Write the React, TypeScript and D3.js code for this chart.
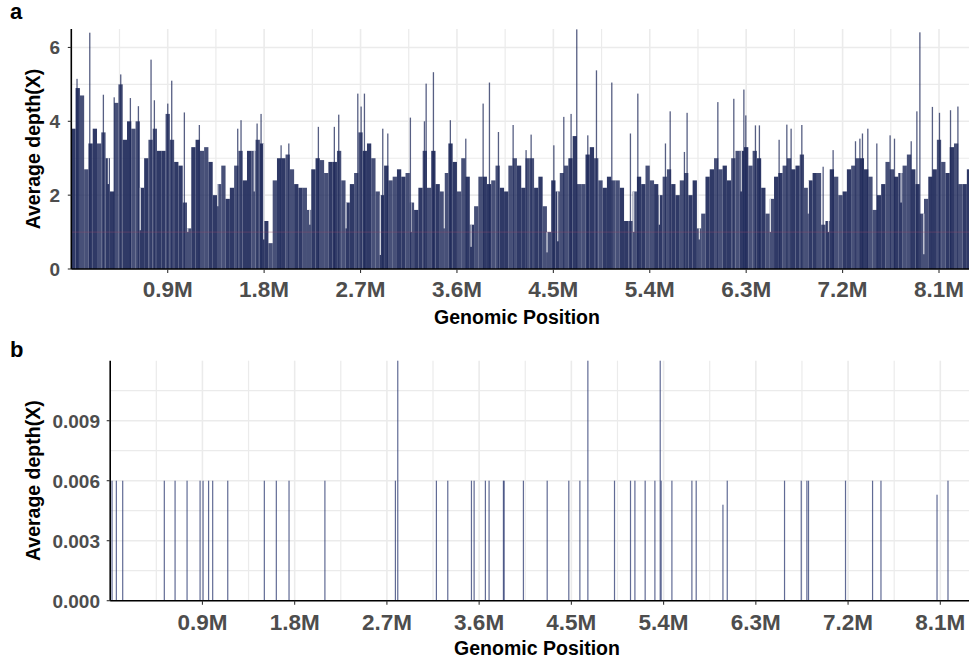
import * as d3 from "d3";

// panel a: mean depth per 40 kb window (Mb positions)
const binSize = 0.04;
const depthBins = [
  3.8, 4.9, 4.7, 2.7, 3.4, 3.8, 3.4, 3.7, 3.0, 2.1, 4.5, 5.0, 3.5, 4.0, 3.8, 4.0, 2.2, 3.0, 3.5, 3.8,
  3.2, 3.2, 4.2, 3.5, 2.9, 2.8, 1.8, 1.1, 3.3, 3.5, 3.2, 3.3, 2.9, 2.0, 2.3,
  2.8, 1.9, 2.2, 2.8, 3.2, 2.4, 3.2, 3.2, 3.5, 3.4, 1.3, 0.7, 2.4, 3.0, 3.0, 3.1, 2.7, 2.3, 2.2, 2.2,
  1.6, 2.7, 3.0, 2.95, 2.6, 2.9, 2.9, 3.2, 2.4, 1.8, 2.3, 2.6, 3.7, 3.2, 3.4,
  3.0, 2.1, 2.0, 2.8, 2.4, 2.5, 2.7, 2.5, 2.6, 1.8, 1.6, 2.2, 3.2, 2.2, 3.2, 2.3, 2.1, 2.6, 3.4, 2.9,
  2.1, 3.0, 2.5, 1.2, 1.7, 2.5, 2.5, 2.3, 2.4, 2.8, 2.2, 2.1, 2.8, 3.0, 2.8,
  2.2, 3.0, 3.0, 2.2, 2.5, 1.7, 1.0, 2.4, 2.1, 2.6, 2.8, 3.0, 3.6, 2.3, 2.3, 3.1, 3.3, 3.0, 2.4, 2.2,
  2.5, 2.4, 2.4, 2.2, 1.3, 1.3, 2.1, 2.5, 2.3, 2.8, 2.4, 2.3, 2.0, 2.5, 2.7,
  2.3, 2.0, 2.4, 2.6, 2.0, 2.4, 1.1, 1.5, 2.5, 2.7, 3.0, 2.7, 2.8, 2.4, 3.0, 3.2, 3.2, 3.3, 2.8, 3.2,
  3.0, 2.2, 1.5, 1.9, 2.5, 2.6, 2.8, 3.0, 2.7, 2.8, 3.1, 2.2, 2.4, 2.6, 2.6,
  1.2, 1.3, 2.7, 2.5, 2.0, 2.1, 2.7, 2.8, 3.0, 3.0, 2.7, 2.5, 1.6, 2.0, 2.3, 2.9, 2.7, 2.5, 2.6, 2.8,
  3.1, 2.7, 2.3, 1.5, 1.9, 2.5, 2.7, 3.5, 2.9, 2.6, 3.3, 3.4, 2.3, 2.3, 2.7,
];

// narrow high-depth peaks sticking out of the windows
const peakPos = [
  0.053, 0.172, 0.299, 0.4, 0.461, 0.551, 0.626, 0.744, 0.775, 0.9, 0.937, 1.055, 1.195,
  1.553, 1.584, 1.734, 1.771, 1.958, 2.03, 2.306, 2.455, 2.496, 2.674, 2.705, 2.736,
  2.907, 2.954, 3.165, 3.296, 3.312, 3.38, 3.538, 3.682, 3.844, 3.903, 3.987, 4.124,
  4.245, 4.292, 4.504, 4.597, 4.665, 4.718, 4.821, 4.902, 5.045, 5.219, 5.288, 5.546, 5.59,
  5.723, 5.748, 6.035, 6.184, 6.278, 6.296, 6.386, 6.423, 6.607, 6.679, 6.719, 6.819,
  7.018, 7.111, 7.32, 7.361, 7.385, 7.435, 7.519, 7.643, 7.684, 7.84, 7.893, 7.921, 8.038, 8.104, 8.207, 8.276,
];
const peakDepth = [
  5.15, 6.4, 4.72, 4.65, 5.27, 4.63, 4.41, 5.67, 4.57, 4.48, 5.1, 4.24, 3.9,
  3.8, 4.03, 3.94, 4.2, 3.35, 3.4, 3.85, 3.85, 4.18, 4.75, 4.4, 4.75,
  3.8, 3.67, 4.1, 4.0, 5.02, 5.33, 4.03, 3.53, 4.48, 5.05, 3.71, 3.9,
  3.22, 3.64, 3.35, 4.12, 4.2, 6.49, 3.62, 5.38, 5.05, 3.67, 4.75, 3.4, 4.27,
  3.17, 4.23, 4.52, 4.61, 4.86, 4.16, 3.89, 3.89, 3.5, 3.91, 3.8, 3.9,
  2.77, 3.22, 3.46, 3.53, 3.67, 3.8, 3.4, 3.62, 3.53, 3.46, 4.27, 6.41, 4.39, 4.23, 4.3, 4.4,
];

// narrow low-depth points cutting into the windows
const dipPos = [
  0.346, 0.644, 1.087, 1.367, 1.708, 1.796, 2.226, 2.565, 2.885, 3.171, 3.482, 3.732,
  4.441, 4.541, 5.25, 5.49, 5.863, 6.254, 6.526, 6.881, 7.068, 7.497, 7.746, 7.958,
];
const dipDepth = [
  2.3, 1.05, 1.0, 1.7, 2.1, 0.8, 1.2, 1.1, 0.38, 1.0, 1.1, 0.6,
  0.45, 0.75, 1.0, 1.2, 0.8, 2.1, 1.0, 1.5, 1.0, 1.6, 1.8, 0.4,
];

// panel b: sparse sites
const sitePos = [
  0.018, 0.06, 0.122, 0.528, 0.633, 0.75, 0.877, 0.906, 0.96, 1.0, 1.147, 1.504, 1.621, 1.745,
  2.095, 2.783, 2.806, 3.183, 3.294, 3.525, 3.551, 3.661, 3.697, 3.837, 3.844, 4.032, 4.264,
  4.475, 4.583, 4.661, 4.921, 5.077, 5.12, 5.22, 5.315, 5.367, 5.376, 5.481, 5.676, 5.718,
  5.979, 6.021, 6.58, 6.743, 6.798, 6.814, 7.175, 7.439, 7.521, 8.068, 8.175,
];
const siteDepth = [
  0.006, 0.006, 0.006, 0.006, 0.006, 0.006, 0.006, 0.006, 0.006, 0.006, 0.006, 0.006, 0.006, 0.006,
  0.006, 0.006, 0.012, 0.006, 0.006, 0.006, 0.006, 0.006, 0.006, 0.006, 0.006, 0.006, 0.006,
  0.006, 0.006, 0.012, 0.006, 0.006, 0.006, 0.006, 0.006, 0.012, 0.006, 0.006, 0.006, 0.006,
  0.0048, 0.006, 0.006, 0.006, 0.006, 0.006, 0.006, 0.006, 0.006, 0.0053, 0.006,
];

const genomeLen = 8.38;
const xTicks = [0.9, 1.8, 2.7, 3.6, 4.5, 5.4, 6.3, 7.2, 8.1];
const xMinor = [0.45, 1.35, 2.25, 3.15, 4.05, 4.95, 5.85, 6.75, 7.65];
const yTicksA = [0, 2, 4, 6];
const yMinorA = [1, 3, 5];
const yTicksB = [0, 0.003, 0.006, 0.009];
const yMinorB = [0.0015, 0.0045, 0.0075, 0.0105];

const W = 969;
const H = 660;
const font = "'Liberation Sans', Arial, sans-serif";
const gridCol = "#ebebeb";
const navy = "#1f2a5a";

function Frame({ x, y, left, top, bottom, yMajor, yMinor }) {
  return (
    <g>
      {xMinor.map((v) => (
        <line key={"xm" + v} x1={x(v)} x2={x(v)} y1={top} y2={bottom} stroke={gridCol} strokeWidth={1.2} />
      ))}
      {xTicks.map((v) => (
        <line key={"xM" + v} x1={x(v)} x2={x(v)} y1={top} y2={bottom} stroke={gridCol} strokeWidth={1.6} />
      ))}
      {yMinor.map((v) => (
        <line key={"ym" + v} x1={left} x2={W} y1={y(v)} y2={y(v)} stroke={gridCol} strokeWidth={1.2} />
      ))}
      {yMajor.map((v) => (
        <line key={"yM" + v} x1={left} x2={W} y1={y(v)} y2={y(v)} stroke={gridCol} strokeWidth={1.6} />
      ))}
    </g>
  );
}

function Axes({ x, y, left, top, bottom, yMajor, yFmt, tickRight, xLabelY, titleY, titleX }) {
  return (
    <g fontFamily={font} fontWeight="bold">
      <line x1={left} x2={left} y1={top} y2={bottom} stroke="#000" strokeWidth={1.6} />
      <line x1={left} x2={W} y1={bottom} y2={bottom} stroke="#000" strokeWidth={1.6} />
      {yMajor.map((v) => (
        <g key={"yt" + v}>
          <line x1={left - 3.5} x2={left} y1={y(v)} y2={y(v)} stroke="#333" strokeWidth={1.1} />
          <text x={tickRight} y={y(v)} dy="0.36em" textAnchor="end" fontSize={19} fill="#4d4d4d">
            {yFmt(v)}
          </text>
        </g>
      ))}
      {xTicks.map((v) => (
        <g key={"xt" + v}>
          <line x1={x(v)} x2={x(v)} y1={bottom} y2={bottom + 4} stroke="#333" strokeWidth={1.1} />
          <text x={x(v)} y={xLabelY} textAnchor="middle" fontSize={22.5} fill="#4d4d4d">
            {v + "M"}
          </text>
        </g>
      ))}
      <text x={titleX} y={titleY} textAnchor="middle" fontSize={19.5} fill="#000">
        Genomic Position
      </text>
      <text
        transform={`translate(40,${(top + bottom) / 2}) rotate(-90)`}
        textAnchor="middle"
        fontSize={19.5}
        fill="#000"
      >
        Average depth(X)
      </text>
    </g>
  );
}

export default function App() {
  // panel a
  const aL = 71.3, aT = 29, aB = 269;
  const xa = d3.scaleLinear().domain([0, genomeLen]).range([aL, W]);
  const ya = d3.scaleLinear().domain([0, 6.5]).range([aB, aT]);
  // panel b
  const bL = 110.2, bT = 360.7, bB = 600.7;
  const xb = d3.scaleLinear().domain([0, genomeLen]).range([bL, W]);
  const yb = d3.scaleLinear().domain([0, 0.012]).range([bB, bT]);

  const bins = depthBins.map((d, i) => ({ start: i * binSize, depth: d }));
  const peaks = peakPos.map((p, i) => ({ pos: p, depth: peakDepth[i] }));
  const dips = dipPos.map((p, i) => {
    const bin = depthBins[Math.min(depthBins.length - 1, Math.floor(p / binSize))];
    return { pos: p, depth: dipDepth[i], top: bin };
  });
  const sites = sitePos.map((p, i) => ({ pos: p, depth: siteDepth[i] }));

  return (
    <svg width={W} height={H} style={{ position: "absolute", left: 0, top: 0, background: "#fff" }}>
      <defs>
        <clipPath id="clipA">
          <rect x={aL} y={aT - 2} width={W - aL} height={aB - aT + 2} />
        </clipPath>
        <clipPath id="clipB">
          <rect x={bL} y={bT - 2} width={W - bL} height={bB - bT + 2} />
        </clipPath>
      </defs>

      <Frame x={xa} y={ya} left={aL} top={aT} bottom={aB} yMajor={yTicksA} yMinor={yMinorA} />
      <g clipPath="url(#clipA)">
        {bins.map((b, i) => (
          <rect
            key={i}
            x={xa(b.start)}
            width={xa(b.start + binSize) - xa(b.start)}
            y={ya(b.depth)}
            height={aB - ya(b.depth)}
            fill={navy}
            fillOpacity={i % 4 < 2 ? 0.93 : 0.82}
          />
        ))}
        {dips
          .filter((d) => d.depth < d.top)
          .map((d, i) => (
            <rect
              key={i}
              x={xa(d.pos) - 0.6}
              width={1.2}
              y={ya(d.top)}
              height={ya(d.depth) - ya(d.top)}
              fill="#fff"
              fillOpacity={0.8}
            />
          ))}
        {peaks.map((p, i) => (
          <rect
            key={i}
            x={xa(p.pos) - 0.6}
            width={1.3}
            y={ya(p.depth)}
            height={aB - ya(p.depth)}
            fill={navy}
            fillOpacity={0.75}
          />
        ))}
        <line x1={aL} x2={W} y1={ya(1)} y2={ya(1)} stroke="#b05070" strokeOpacity={0.25} strokeWidth={1.2} />
      </g>
      <Axes
        x={xa}
        y={ya}
        left={aL}
        top={aT}
        bottom={aB}
        yMajor={yTicksA}
        yFmt={(v) => String(v)}
        tickRight={60}
        xLabelY={297}
        titleY={324}
        titleX={517}
      />

      <Frame x={xb} y={yb} left={bL} top={bT} bottom={bB} yMajor={yTicksB} yMinor={yMinorB} />
      <g clipPath="url(#clipB)">
        {sites.map((s, i) => (
          <rect
            key={i}
            x={xb(s.pos) - 0.6}
            width={1.2}
            y={yb(s.depth)}
            height={bB - yb(s.depth)}
            fill="#2c3a72"
            fillOpacity={0.75}
          />
        ))}
      </g>
      <Axes
        x={xb}
        y={yb}
        left={bL}
        top={bT}
        bottom={bB}
        yMajor={yTicksB}
        yFmt={d3.format(".3f")}
        tickRight={100}
        xLabelY={630}
        titleY={655}
        titleX={537}
      />

      <text x={10} y={19} fontFamily={font} fontWeight="bold" fontSize={22}>a</text>
      <text x={10} y={357} fontFamily={font} fontWeight="bold" fontSize={22}>b</text>
    </svg>
  );
}
